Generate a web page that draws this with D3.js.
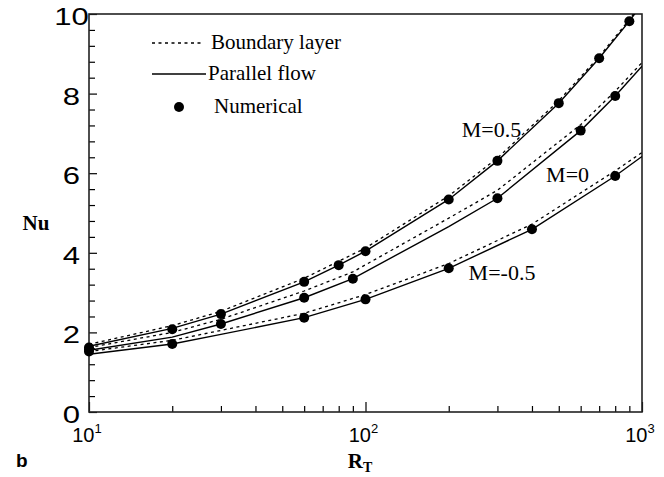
<!DOCTYPE html>
<html>
<head>
<meta charset="utf-8">
<script src="https://cdn.jsdelivr.net/npm/d3@7/dist/d3.min.js"></script>
<style>
  body { margin: 0; background: #fff; }
  svg { display: block; }
</style>
</head>
<body>
<svg id="chart" width="664" height="477"></svg>
<script>
'use strict';

// ---- data ----
var ratioLabels = ['M=0.5', 'M=0', 'M=-0.5'];

// parallel flow (solid)
var pfX05 = [10, 20, 30, 60, 80, 100, 200, 300, 500, 700, 900, 1000];
var pfY05 = [1.65, 2.1, 2.46, 3.27, 3.69, 4.04, 5.34, 6.31, 7.76, 8.89, 9.82, 10.25];
var pfX0 = [10, 20, 30, 60, 90, 200, 300, 600, 800, 1000];
var pfY0 = [1.55, 1.88, 2.21, 2.87, 3.35, 4.66, 5.37, 7.07, 7.94, 8.69];
var pfXm05 = [10, 20, 30, 60, 100, 200, 400, 800, 1000];
var pfYm05 = [1.45, 1.71, 1.95, 2.37, 2.83, 3.61, 4.59, 5.93, 6.42];

// boundary layer (dashed)
var blX05 = [10, 20, 30, 60, 100, 200, 300, 500, 700, 900, 1000];
var blY05 = [1.7, 2.17, 2.53, 3.36, 4.12, 5.43, 6.38, 7.82, 8.93, 9.86, 10.3];
var blX0 = [10, 20, 30, 60, 90, 200, 300, 600, 800, 1000];
var blY0 = [1.62, 2.0, 2.33, 3.04, 3.52, 4.87, 5.57, 7.22, 8.06, 8.78];
var blXm05 = [10, 20, 30, 60, 100, 200, 400, 800, 1000];
var blYm05 = [1.52, 1.8, 2.05, 2.48, 2.95, 3.73, 4.72, 6.06, 6.52];

// numerical (dots)
var numX05 = [10, 20, 30, 60, 80, 100, 200, 300, 500, 700, 900];
var numY05 = [1.62, 2.08, 2.46, 3.27, 3.69, 4.04, 5.34, 6.31, 7.76, 8.89, 9.82];
var numX0 = [10, 30, 60, 90, 300, 600, 800];
var numY0 = [1.57, 2.21, 2.87, 3.35, 5.37, 7.07, 7.94];
var numXm05 = [10, 20, 60, 100, 200, 400, 800];
var numYm05 = [1.52, 1.71, 2.37, 2.83, 3.61, 4.59, 5.93];

// curve label anchors (data coordinates)
var labelRt = [223, 450, 236];
var labelNu = [6.92, 5.79, 3.32];

var yMajor = [0, 2, 4, 6, 8, 10];
var xMajor = [10, 100, 1000];
var xExp = ['1', '2', '3'];
var legendNames = ['Boundary layer', 'Parallel flow', 'Numerical'];

// ---- layout ----
var M = { left: 89, top: 14, right: 642, bottom: 412 };
var SERIF = '"Liberation Serif", "Times New Roman", serif';
var SANS = '"Liberation Sans", Arial, sans-serif';

var svg = d3.select('#chart');

var x = d3.scaleLog().domain([10, 1000]).range([M.left, M.right]);
var y = d3.scaleLinear().domain([0, 10]).range([M.bottom, M.top]);

function zip(xs, ys) {
    return xs.map(function(v, i) { return { x: v, y: ys[i] }; });
}

var pfSeries = [zip(pfX05, pfY05), zip(pfX0, pfY0), zip(pfXm05, pfYm05)];
var blSeries = [zip(blX05, blY05), zip(blX0, blY0), zip(blXm05, blYm05)];
var numSeries = [zip(numX05, numY05), zip(numX0, numY0), zip(numXm05, numYm05)];

svg.append('clipPath').attr('id', 'plot-clip')
    .append('rect')
    .attr('x', M.left).attr('y', M.top)
    .attr('width', M.right - M.left).attr('height', M.bottom - M.top);

// minor ticks
var xMinor = [];
[10, 100].forEach(function(d) {
    for (var k = 2; k <= 9; k++) xMinor.push(d * k);
});
var yMinor = d3.range(0, 10.01, 0.4).filter(function(v) {
    return Math.abs(v / 2 - Math.round(v / 2)) > 0.01;
});

var axisXMinor = d3.axisBottom(x).tickValues(xMinor).tickSize(-6).tickFormat('');
var axisXMajor = d3.axisBottom(x).tickValues(xMajor).tickSize(-10).tickFormat('');
var axisYMinor = d3.axisLeft(y).tickValues(yMinor).tickSize(-6).tickFormat('');
var axisYMajor = d3.axisLeft(y).tickValues(yMajor).tickSize(-8).tickFormat('');

[axisXMinor, axisXMajor].forEach(function(ax) {
    svg.append('g')
        .attr('transform', 'translate(0,' + M.bottom + ')')
        .call(ax)
        .call(function(g) { g.select('.domain').remove(); })
        .selectAll('line').attr('stroke', '#000').attr('stroke-width', 1.2);
});
[axisYMinor, axisYMajor].forEach(function(ax) {
    svg.append('g')
        .attr('transform', 'translate(' + M.left + ',0)')
        .call(ax)
        .call(function(g) { g.select('.domain').remove(); })
        .selectAll('line').attr('stroke', '#000').attr('stroke-width', 1.2);
});

// frame
svg.append('rect')
    .attr('x', M.left).attr('y', M.top)
    .attr('width', M.right - M.left).attr('height', M.bottom - M.top)
    .attr('fill', 'none').attr('stroke', '#222').attr('stroke-width', 1.6);

// y tick labels (wide sans, centred)
svg.append('g').selectAll('g')
    .data(yMajor)
    .enter()
    .append('g')
    .attr('transform', function(d) { return 'translate(71.5,' + (y(d) + 11) + ') scale(1.35,1)'; })
    .append('text')
    .attr('text-anchor', 'middle')
    .attr('font-family', SANS)
    .attr('font-size', 23)
    .attr('fill', '#000')
    .text(function(d) { return d; });

// x tick labels 10^n
var xl = svg.append('g').selectAll('text')
    .data(xMajor)
    .enter()
    .append('text')
    .attr('x', function(d) { return x(d) - 2; })
    .attr('y', 442)
    .attr('text-anchor', 'middle')
    .attr('font-family', SANS)
    .attr('font-size', 20)
    .attr('fill', '#000');
xl.append('tspan').text('10');
xl.append('tspan')
    .attr('dy', -9)
    .attr('font-size', 13)
    .text(function(d, i) { return xExp[i]; });

// curves
var line = d3.line()
    .x(function(d) { return x(d.x); })
    .y(function(d) { return y(d.y); });

var plot = svg.append('g').attr('clip-path', 'url(#plot-clip)');

plot.selectAll('path.bl')
    .data(blSeries)
    .enter()
    .append('path')
    .attr('class', 'bl')
    .attr('fill', 'none')
    .attr('stroke', '#000')
    .attr('stroke-width', 1.3)
    .attr('stroke-dasharray', '3,3.5')
    .attr('d', line);

plot.selectAll('path.pf')
    .data(pfSeries)
    .enter()
    .append('path')
    .attr('class', 'pf')
    .attr('fill', 'none')
    .attr('stroke', '#000')
    .attr('stroke-width', 1.4)
    .attr('d', line);

svg.append('g').selectAll('g')
    .data(numSeries)
    .enter()
    .append('g')
    .selectAll('circle')
    .data(function(d) { return d; })
    .enter()
    .append('circle')
    .attr('cx', function(d) { return x(d.x); })
    .attr('cy', function(d) { return y(d.y); })
    .attr('r', 5)
    .attr('fill', '#000');

// curve labels
svg.append('g').selectAll('text')
    .data(ratioLabels)
    .enter()
    .append('text')
    .attr('x', function(d, i) { return x(labelRt[i]); })
    .attr('y', function(d, i) { return y(labelNu[i]); })
    .attr('font-family', SERIF)
    .attr('font-size', 22)
    .attr('fill', '#000')
    .text(function(d) { return d; });

// legend
var legend = svg.append('g');
var legRows = [43, 74, 107];
legend.append('line')
    .attr('x1', 152).attr('x2', 201).attr('y1', legRows[0]).attr('y2', legRows[0])
    .attr('stroke', '#000').attr('stroke-width', 1.3).attr('stroke-dasharray', '3,3.5');
legend.append('line')
    .attr('x1', 152).attr('x2', 206).attr('y1', legRows[1]).attr('y2', legRows[1])
    .attr('stroke', '#000').attr('stroke-width', 1.4);
legend.append('circle')
    .attr('cx', 179).attr('cy', legRows[2]).attr('r', 5).attr('fill', '#000');
legend.selectAll('text')
    .data(legendNames)
    .enter()
    .append('text')
    .attr('x', function(d, i) { return [211, 208, 214][i]; })
    .attr('y', function(d, i) { return legRows[i] + 6; })
    .attr('font-family', SERIF)
    .attr('font-size', 21)
    .attr('fill', '#000')
    .text(function(d) { return d; });

// axis titles
svg.append('text')
    .attr('x', 36).attr('y', 230)
    .attr('text-anchor', 'middle')
    .attr('font-family', SERIF)
    .attr('font-weight', 'bold')
    .attr('font-size', 21)
    .text('Nu');

var rt = svg.append('text')
    .attr('x', 360).attr('y', 468)
    .attr('text-anchor', 'middle')
    .attr('font-family', SERIF)
    .attr('font-weight', 'bold')
    .attr('font-size', 21);
rt.append('tspan').text('R');
rt.append('tspan').attr('dy', 4).attr('font-size', 14).text('T');

svg.append('text')
    .attr('x', 16).attr('y', 467)
    .attr('font-family', SANS)
    .attr('font-weight', 'bold')
    .attr('font-size', 19)
    .text('b');
</script>
</body>
</html>
